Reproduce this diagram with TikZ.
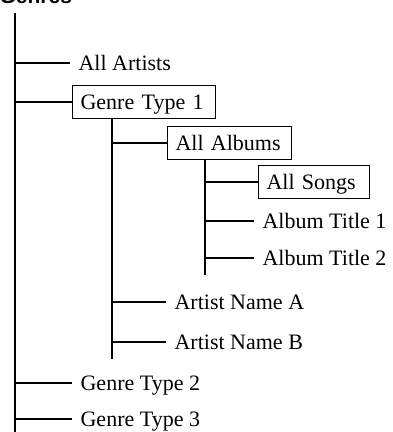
\documentclass[tikz,border=0pt]{standalone}
\usepackage{fontspec}
\setmainfont{Liberation Serif}
\newfontfamily\titlefont{Liberation Sans}
\begin{document}
\begin{tikzpicture}[x=1pt,y=-1pt,line width=1.2pt,
  every node/.style={font=\fontsize{22}{26}\selectfont, text height=14.5pt, text depth=0pt, anchor=west},
  plain/.style={inner xsep=8pt, inner ysep=2pt},
  boxed/.style={draw, line width=1.1pt, inner xsep=8pt, inner ysep=0pt, minimum height=33pt, text width=#1, align=left},
  link/.style={line width=1.2pt}]
\useasboundingbox (0,0) rectangle (393,432);
% title
\node[font=\titlefont\bfseries\fontsize{21}{25}\selectfont, anchor=base west, inner sep=0pt, text height=, text depth=] (title) at (-1,3) {Genres};
% main trunk coordinates
\coordinate (m0) at (15,13);
\coordinate (m1) at (15,63);
\coordinate (m2) at (15,102);
\coordinate (m3) at (15,383);
\coordinate (m4) at (15,419);
\coordinate (mend) at (15,433);
% nodes
\node[plain] (aart) at (70,63) {All Artists};
\node[boxed=127pt] (g1) at (72,102) {Genre Type 1};
\node[plain] (g2) at (72,383) {Genre Type 2};
\node[plain] (g3) at (72,419) {Genre Type 3};
% second trunk
\coordinate (s1) at (112,143);
\coordinate (s2) at (112,302);
\coordinate (s3) at (112,342);
\coordinate (send) at (112,359);
\node[boxed=108pt] (alb) at (167,143) {All Albums};
\node[plain] (arta) at (166,302) {Artist Name A};
\node[plain] (artb) at (166,342) {Artist Name B};
% third trunk
\coordinate (r1) at (205,182);
\coordinate (r2) at (205,221);
\coordinate (r3) at (205,258);
\coordinate (rend) at (205,275);
\node[boxed=95pt] (songs) at (258,182) {All Songs};
\node[plain] (at1) at (254,221) {Album Title 1};
\node[plain] (at2) at (254,258) {Album Title 2};
% connectors
\draw[link] (m0) -- (mend);
\draw[link] (m1) -- (aart.west);
\draw[link] (m2) -- (g1.west);
\draw[link] (m3) -- (g2.west);
\draw[link] (m4) -- (g3.west);
\draw[link] (send |- g1.south) -- (send);
\draw[link] (s1) -- (alb.west);
\draw[link] (s2) -- (arta.west);
\draw[link] (s3) -- (artb.west);
\draw[link] (rend |- alb.south) -- (rend);
\draw[link] (r1) -- (songs.west);
\draw[link] (r2) -- (at1.west);
\draw[link] (r3) -- (at2.west);
\end{tikzpicture}
\end{document}
